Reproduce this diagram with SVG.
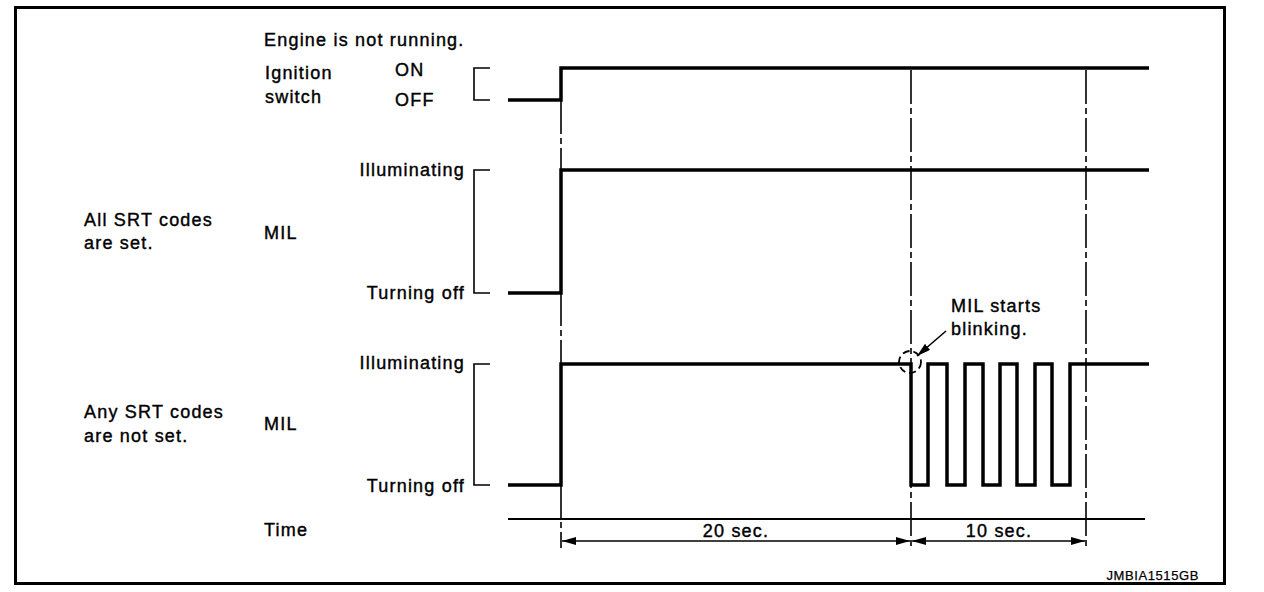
<svg xmlns="http://www.w3.org/2000/svg" width="1264" height="592" viewBox="0 0 1264 592">
<style>
text{font-family:"Liberation Sans",Arial,sans-serif;font-size:18px;letter-spacing:1.2px;fill:#000;stroke:#000;stroke-width:0.4}
.r{text-anchor:end}
.m{text-anchor:middle}
.sig{fill:none;stroke:#000;stroke-width:3.5;stroke-linejoin:miter}
.br{fill:none;stroke:#000;stroke-width:1.6}
.dash{fill:none;stroke:#000;stroke-width:1.6;stroke-dasharray:34 4 6 4}
.thin{fill:none;stroke:#000;stroke-width:1.6}
</style>
<defs>
<marker id="ah" viewBox="0 0 14 8" refX="14" refY="4" markerWidth="14" markerHeight="8" markerUnits="userSpaceOnUse" orient="auto-start-reverse">
<path d="M0,0 L14,4 L0,8 Z" fill="#000"/>
</marker>
</defs>
<rect x="15.5" y="7.5" width="1209" height="576" fill="#fff" stroke="#000" stroke-width="3"/>
<g id="labels">
<text x="264" y="46">Engine is not running.</text>
<text x="265" y="79">Ignition</text>
<text x="265" y="103">switch</text>
<text x="395" y="76">ON</text>
<text x="395" y="106">OFF</text>
<text x="84" y="226">All SRT codes</text>
<text x="84" y="249">are set.</text>
<text x="264" y="239">MIL</text>
<text class="r" x="465" y="176">Illuminating</text>
<text class="r" x="465" y="299">Turning off</text>
<text x="84" y="418">Any SRT codes</text>
<text x="84" y="442">are not set.</text>
<text x="264" y="430">MIL</text>
<text class="r" x="465" y="369">Illuminating</text>
<text class="r" x="465" y="492">Turning off</text>
<text x="264" y="536">Time</text>
<text x="1199" y="580" class="r" style="font-size:13px;letter-spacing:0.6px;stroke-width:0.25">JMBIA1515GB</text>
</g>
<g id="ignition">
<path class="br" d="M490,68 H474 V100 H490"/>
<path class="sig" d="M508,100 H561 V68 H1149"/>
</g>
<g id="mil-set">
<path class="br" d="M490,170 H474 V293 H490"/>
<path class="sig" d="M508,293 H561 V170 H1149"/>
</g>
<g id="mil-notset">
<path class="br" d="M490,364 H474 V485 H490"/>
<path class="sig" d="M508,485 H561 V364 H911 V485 H928 V364 H947 V485 H965 V364 H983 V485 H1000 V364 H1017 V485 H1035 V364 H1052 V485 H1070 V364 H1149"/>
</g>
<g id="connectors">
<line class="dash" x1="561" y1="100" x2="561" y2="548"/>
<line class="dash" x1="911" y1="70" x2="911" y2="548"/>
<line class="dash" x1="1086" y1="70" x2="1086" y2="548"/>
<line x1="508" y1="519" x2="1145" y2="519" stroke="#000" stroke-width="2.2"/>
<line class="thin" x1="562" y1="541" x2="910" y2="541" marker-start="url(#ah)" marker-end="url(#ah)"/>
<line class="thin" x1="912" y1="541" x2="1085" y2="541" marker-start="url(#ah)" marker-end="url(#ah)"/>
<circle cx="910" cy="362" r="11" fill="none" stroke="#000" stroke-width="1.8" stroke-dasharray="7 4"/>
<line class="thin" x1="946" y1="331" x2="917" y2="356" marker-end="url(#ah)"/>
</g>
<g id="annotations">
<text class="m" x="736" y="537">20 sec.</text>
<text class="m" x="999" y="537">10 sec.</text>
<text x="951" y="312">MIL starts</text>
<text x="951" y="335">blinking.</text>
</g>
</svg>
